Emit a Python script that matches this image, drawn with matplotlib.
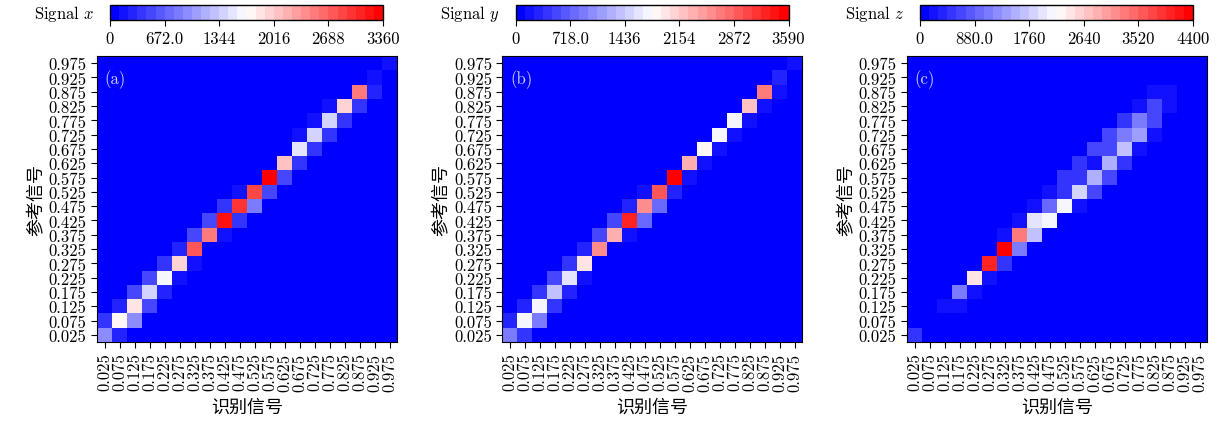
import numpy as np
import matplotlib
matplotlib.use('Agg')
import matplotlib.pyplot as plt

plt.rcParams['font.family'] = ['cmr10', 'Noto Sans CJK SC', 'DejaVu Sans']
plt.rcParams['mathtext.fontset'] = 'cm'
plt.rcParams['axes.formatter.use_mathtext'] = True

# bin centres shared by both axes
bins = [0.025, 0.075, 0.125, 0.175, 0.225, 0.275, 0.325, 0.375, 0.425, 0.475,
        0.525, 0.575, 0.625, 0.675, 0.725, 0.775, 0.825, 0.875, 0.925, 0.975]
bin_labels = ['%.3f' % b for b in bins]

# non-zero cells: row = reference bin, col = identified bin
x_rows = [0, 0, 1, 1, 1, 2, 2, 2, 3, 3, 3, 4, 4, 4, 5, 5, 5, 6, 6, 7, 7, 7,
          8, 8, 8, 9, 9, 9, 10, 10, 10, 11, 11, 12, 12, 13, 13, 14, 14, 14,
          15, 15, 15, 16, 16, 16, 17, 17, 18, 19]
x_cols = [0, 1, 0, 1, 2, 1, 2, 3, 2, 3, 4, 3, 4, 5, 4, 5, 6, 5, 6, 6, 7, 8,
          7, 8, 9, 8, 9, 10, 9, 10, 11, 11, 12, 12, 13, 13, 14, 13, 14, 15,
          14, 15, 16, 15, 16, 17, 17, 18, 18, 19]
x_vals = [896, 224, 336, 1726, 896, 224, 1882, 448, 448, 1370, 224, 448, 1607,
          112, 336, 1982, 112, 224, 2688, 448, 2464, 112, 448, 3136, 336, 336,
          2912, 784, 112, 2800, 448, 3360, 448, 2096, 336, 1478, 336, 112, 1370,
          336, 112, 1370, 336, 112, 1982, 336, 2464, 224, 112, 112]

y_rows = [0, 0, 1, 1, 1, 2, 2, 2, 3, 3, 3, 4, 4, 4, 5, 5, 6, 6, 7, 7, 7,
          8, 8, 8, 9, 9, 9, 10, 10, 10, 11, 11, 12, 12, 13, 13, 14, 14,
          15, 15, 16, 16, 17, 17, 18, 19]
y_cols = [0, 1, 0, 1, 2, 1, 2, 3, 2, 3, 4, 3, 4, 5, 4, 5, 5, 6, 6, 7, 8,
          7, 8, 9, 8, 9, 10, 9, 10, 11, 11, 12, 12, 13, 13, 14, 14, 15,
          15, 16, 16, 17, 17, 18, 18, 19]
y_vals = [957, 360, 240, 1717, 957, 240, 1717, 360, 360, 1351, 240, 479, 1576,
          120, 360, 2010, 240, 2630, 479, 2360, 120, 479, 3231, 718, 240, 2630,
          718, 120, 2990, 240, 3590, 120, 2360, 120, 1846, 120, 1717, 120,
          1717, 120, 2243, 120, 2693, 120, 240, 120]

z_rows = [0, 2, 2, 3, 3, 4, 4, 5, 5, 6, 6, 7, 7, 7, 8, 8, 8, 9, 9, 9, 9,
          10, 10, 10, 10, 11, 11, 11, 11, 12, 12, 12, 12, 13, 13, 13, 13,
          14, 14, 14, 14, 15, 15, 15, 16, 16, 16, 17, 17]
z_cols = [0, 2, 3, 3, 4, 4, 5, 5, 6, 6, 7, 6, 7, 8, 7, 8, 9, 8, 9, 10, 11,
          9, 10, 11, 12, 10, 11, 12, 13, 11, 12, 13, 14, 12, 13, 14, 15,
          13, 14, 15, 16, 14, 15, 16, 15, 16, 17, 16, 17]
z_vals = [440, 147, 147, 1173, 147, 2468, 147, 3960, 440, 4400, 1173, 147,
          3300, 1656, 147, 1932, 2105, 293, 880, 2105, 293, 293, 440, 1795,
          587, 440, 440, 1467, 733, 440, 293, 1467, 440, 587, 587, 1656, 293,
          587, 1173, 1320, 147, 440, 1027, 587, 293, 587, 147, 147, 293]

vmax_list = [3360, 3590, 4400]
cbar_labels = [['0', '672.0', '1344', '2016', '2688', '3360'],
               ['0', '718.0', '1436', '2154', '2872', '3590'],
               ['0', '880.0', '1760', '2640', '3520', '4400']]
names = ['Signal $x$', 'Signal $y$', 'Signal $z$']
letters = ['(a)', '(b)', '(c)']

panels = [(x_rows, x_cols, x_vals), (y_rows, y_cols, y_vals),
          (z_rows, z_cols, z_vals)]

W, H = 1222, 427
fig = plt.figure(figsize=(W / 100, H / 100), dpi=100)
cmap = plt.get_cmap('bwr', 30)
lefts = [97, 502.5, 907]

for k in range(3):
    rows, cols, vals = panels[k]
    grid = np.zeros((len(bins), len(bins)))
    grid[rows, cols] = vals

    ax = fig.add_axes([lefts[k] / W, 84 / H, 300 / W, 286 / H])
    im = ax.imshow(grid, cmap=cmap, vmin=0, vmax=vmax_list[k], origin='lower',
                   extent=[0, 1, 0, 1], aspect='auto', interpolation='nearest')
    ax.set_xticks(bins)
    ax.set_xticklabels(bin_labels, rotation=90, fontsize=12)
    ax.set_yticks(bins)
    ax.set_yticklabels(bin_labels, fontsize=12)
    ax.tick_params(length=4)
    ax.set_xlabel('识别信号', family='Noto Sans CJK SC', fontsize=13, labelpad=5)
    ax.set_ylabel('参考信号', family='Noto Sans CJK SC', fontsize=13, labelpad=3)
    ax.text(0.025, 0.955, letters[k], transform=ax.transAxes, color='#d4d4ff',
            fontsize=12, va='top', ha='left')

    cax = fig.add_axes([(lefts[k] + 13) / W, (H - 21) / H, 273 / W, 15 / H])
    cb = fig.colorbar(im, cax=cax, orientation='horizontal')
    ticks = np.linspace(0, vmax_list[k], 6)
    cb.set_ticks(ticks)
    cb.set_ticklabels(cbar_labels[k], fontsize=12)
    cb.ax.tick_params(length=4)
    cb.outline.set_linewidth(1)
    fig.text((lefts[k] - 2) / W, (H - 14) / H, names[k], fontsize=12,
             ha='right', va='center')

fig.savefig('out.png', dpi=100)
